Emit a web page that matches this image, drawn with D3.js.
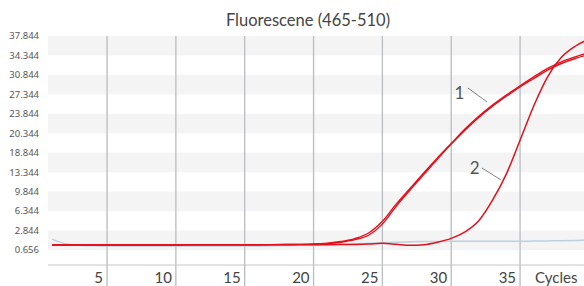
<!DOCTYPE html>
<html>
<head>
<meta charset="utf-8">
<script src="https://cdn.jsdelivr.net/npm/d3@7"></script>
<style>
  body { margin: 0; background: #fff; }
  svg { display: block; }
</style>
</head>
<body>
<div id="chart"></div>
<script>
// amplification curves, one value per cycle 1..40
const cycles = [1, 2, 3, 4, 5, 6, 7, 8, 9, 10, 11, 12, 13, 14, 15, 16, 17, 18, 19, 20,
    21, 22, 23, 24, 25, 26, 27, 28, 29, 30, 31, 32, 33, 34, 35, 36, 37, 38, 39, 40];

const sample1a = [0.25, 0.25, 0.25, 0.25, 0.25, 0.25, 0.25, 0.25, 0.25, 0.25,
    0.28, 0.3, 0.3, 0.3, 0.3, 0.3, 0.32, 0.34, 0.36, 0.42,
    0.58, 0.88, 1.4, 2.4, 4.5, 7.6, 10.4, 13.2, 15.9, 18.5,
    21.1, 23.4, 25.4, 27.2, 28.9, 30.5, 32.0, 33.2, 34.1, 34.9];

const sample1b = [0.25, 0.25, 0.25, 0.25, 0.25, 0.25, 0.25, 0.25, 0.25, 0.25,
    0.27, 0.28, 0.29, 0.3, 0.3, 0.3, 0.31, 0.33, 0.35, 0.4,
    0.5, 0.75, 1.2, 2.0, 4.0, 7.2, 10.1, 12.9, 15.7, 18.4,
    20.9, 23.2, 25.2, 27.0, 28.7, 30.2, 31.7, 32.9, 33.8, 34.5];

const sample2 = [0.25, 0.25, 0.25, 0.25, 0.25, 0.25, 0.25, 0.25, 0.25, 0.25,
    0.3, 0.3, 0.3, 0.3, 0.3, 0.3, 0.3, 0.3, 0.3, 0.3,
    0.3, 0.32, 0.35, 0.42, 0.55, 0.38, 0.18, 0.3, 0.75, 1.44,
    2.6, 4.6, 8.3, 13.0, 19.1, 25.3, 30.5, 34.0, 36.0, 37.3];

const negative = [1.3, 0.45, 0.2, 0.1, 0.05, 0.05, 0.05, 0.05, 0.05, 0.05,
    0.05, 0.05, 0.05, 0.05, 0.06, 0.08, 0.1, 0.14, 0.18, 0.22,
    0.28, 0.36, 0.45, 0.55, 0.65, 0.75, 0.82, 0.86, 0.88, 0.9,
    0.9, 0.9, 0.9, 0.9, 0.9, 0.95, 0.98, 1.0, 1.05, 1.1];

// y ticks: evenly spaced, labels as printed on the instrument
const yTickValues = [37.844, 34.344, 30.844, 27.344, 23.844, 20.344, 16.844, 13.344, 9.844, 6.344, 2.844, -0.656];
const yTickLabels = ["37.844", "34.344", "30.844", "27.344", "23.844", "20.344", "18.844", "13.344", "9.844", "6.344", "2.844", "0.656"];
const xTickValues = [5, 10, 15, 20, 25, 30, 35];

const width = 584, height = 286;
const plot = { left: 48, right: 584, top: 36, bottom: 250, axis: 265 };

const svg = d3.select("#chart").append("svg")
    .attr("width", width)
    .attr("height", height);

const x = d3.scaleLinear().domain([0, 40]).range([38.2, 588.9]);
const y = d3.scaleLinear().domain([-0.656, 37.844]).range([plot.bottom, plot.top]);

// alternating stripes
const bands = yTickValues.slice(0, -1).map((v, i) => ({ top: v, bottom: yTickValues[i + 1], i: i }))
    .filter(d => d.i % 2 === 0);
svg.append("g").selectAll("rect")
    .data(bands)
    .enter().append("rect")
    .attr("x", plot.left)
    .attr("width", plot.right - plot.left)
    .attr("y", d => y(d.top))
    .attr("height", d => y(d.bottom) - y(d.top))
    .attr("fill", "#f4f4f4");

// y labels
svg.append("g").selectAll("text")
    .data(yTickValues)
    .enter().append("text")
    .attr("x", 39)
    .attr("y", d => y(d))
    .attr("dy", "0.35em")
    .attr("text-anchor", "end")
    .style("font-family", "'Noto Sans', sans-serif")
    .style("font-size", "9.5px")
    .style("fill", "#555")
    .text((d, i) => yTickLabels[i]);

// vertical grid lines
svg.append("g").selectAll("line")
    .data(xTickValues)
    .enter().append("line")
    .attr("x1", d => x(d)).attr("x2", d => x(d))
    .attr("y1", plot.top).attr("y2", height)
    .attr("stroke", "#b8bcbe")
    .attr("stroke-width", 1.3);

// bottom axis line
svg.append("line")
    .attr("x1", plot.left).attr("x2", plot.right)
    .attr("y1", plot.axis).attr("y2", plot.axis)
    .attr("stroke", "#c4c6c8")
    .attr("stroke-width", 1);

// x labels, sitting left of each grid line
svg.append("g").selectAll("text")
    .data(xTickValues)
    .enter().append("text")
    .attr("x", d => x(d) - 4)
    .attr("y", 283)
    .attr("text-anchor", "end")
    .style("font-family", "Lato, sans-serif")
    .style("font-size", "15px")
    .style("fill", "#444")
    .text(d => d);

svg.append("text")
    .attr("x", 535)
    .attr("y", 283)
    .style("font-family", "Lato, sans-serif")
    .style("font-size", "15px")
    .style("fill", "#444")
    .text("Cycles");

// title
svg.append("text")
    .attr("x", 308)
    .attr("y", 26)
    .attr("text-anchor", "middle")
    .style("font-family", "Lato, sans-serif")
    .style("font-size", "16.5px")
    .style("fill", "#444")
    .text("Fluorescene (465-510)");

// curves
svg.append("clipPath").attr("id", "clip")
    .append("rect")
    .attr("x", plot.left).attr("y", 0)
    .attr("width", plot.right - plot.left).attr("height", plot.axis);

const line = d3.line()
    .x((d, i) => x(cycles[i]))
    .y(d => y(d))
    .curve(d3.curveMonotoneX);

const series = [
    { values: negative, color: "#bcd0e0", width: 1.5 },
    { values: sample2, color: "#e3101c", width: 1.5 },
    { values: sample1b, color: "#e3101c", width: 1.4 },
    { values: sample1a, color: "#e3101c", width: 1.4 }
];

svg.append("g")
    .attr("clip-path", "url(#clip)")
    .selectAll("path")
    .data(series)
    .enter().append("path")
    .attr("d", d => line(d.values))
    .attr("fill", "none")
    .attr("stroke", d => d.color)
    .attr("stroke-width", d => d.width);

// curve labels with leader lines
const callouts = [
    { text: "1", cycle: 30.6, value: 27.6, lx: 468, ly: 88, ex: 487, ey: 102 },
    { text: "2", cycle: 31.7, value: 14.0, lx: 482, ly: 168, ex: 501, ey: 180 }
];
const cg = svg.append("g");
cg.selectAll("text")
    .data(callouts)
    .enter().append("text")
    .attr("x", d => x(d.cycle))
    .attr("y", d => y(d.value))
    .attr("text-anchor", "middle")
    .attr("dy", "0.35em")
    .style("font-family", "Lato, sans-serif")
    .style("font-size", "17px")
    .style("fill", "#555")
    .text(d => d.text);
cg.selectAll("line")
    .data(callouts)
    .enter().append("line")
    .attr("x1", d => d.lx).attr("y1", d => d.ly)
    .attr("x2", d => d.ex).attr("y2", d => d.ey)
    .attr("stroke", "#666")
    .attr("stroke-width", 0.8);
</script>
</body>
</html>
